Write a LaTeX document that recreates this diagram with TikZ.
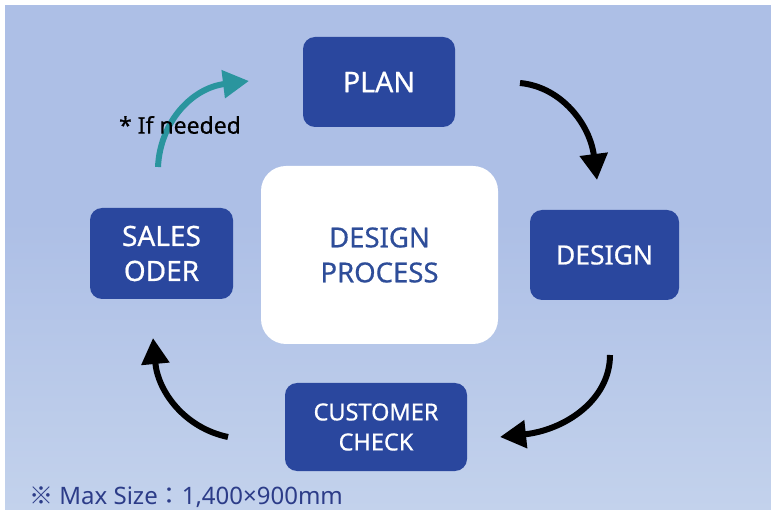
\documentclass[tikz,border=0pt]{standalone}
\usepackage{fontspec}
\setmainfont{Noto Sans}
\newfontfamily\medfont{Noto Sans}[FakeBold=0.6]
\newfontfamily\cjkfont{Noto Sans CJK JP}
\usetikzlibrary{arrows.meta}
\definecolor{boxblue}{HTML}{2A479E}
\definecolor{bgtop}{HTML}{ADBFE6}
\definecolor{bgbot}{HTML}{C3D2EC}
\definecolor{txtblue}{HTML}{2E4D99}
\definecolor{noteblue}{HTML}{2C3C88}
\definecolor{teal}{HTML}{2A959E}
\tikzset{
  stepbox/.style={fill=boxblue, text=white, rounded corners=12pt, inner sep=0pt, align=center},
  centerbox/.style={fill=white, text=txtblue, rounded corners=25pt, inner sep=0pt, align=center,
    minimum width=237pt, minimum height=178pt, font=\medfont\fontsize{27.5}{35}\selectfont},
  flow/.style={line width=6pt, -{Triangle[length=26pt,width=27pt]}},
}
\begin{document}
\begin{tikzpicture}[x=1pt,y=-1pt]
\useasboundingbox (0,0) rectangle (771,510);
\fill[white] (0,0) rectangle (771,510);
\fill[bgtop] (5,5) rectangle (771,221);
\shade[top color=bgtop, bottom color=bgbot] (5,220) rectangle (771,510);

\node[centerbox] (center) at (379.5,255) {DESIGN\\PROCESS};
\node[stepbox, minimum width=152pt, minimum height=90pt, font=\medfont\fontsize{28.5}{35}\selectfont] (plan) at (379,82) {PLAN};
\node[stepbox, minimum width=149pt, minimum height=90pt, font=\medfont\fontsize{26.5}{35}\selectfont] (design) at (604.5,255) {DESIGN};
\node[stepbox, minimum width=182pt, minimum height=88pt, font=\medfont\fontsize{23.5}{30}\selectfont] (check) at (376,427) {CUSTOMER\\CHECK};
\node[stepbox, minimum width=143pt, minimum height=91pt, font=\medfont\fontsize{28}{35}\selectfont] (sales) at (161.5,253.5) {SALES\\ODER};

\coordinate (a1s) at (520,83);
\coordinate (a1e) at (597,180);
\coordinate (a2s) at (610,355);
\coordinate (a2e) at (500,437);
\coordinate (a3s) at (228,437);
\coordinate (a3e) at (153,338);
\coordinate (a4s) at (158,167);
\coordinate (a4e) at (249,81);

\draw[flow] (a1s) .. controls (562,87) and (590,125) .. (a1e);
\draw[flow] (a2s) .. controls (610,400) and (565,430) .. (a2e);
\draw[flow] (a3s) .. controls (185,428) and (158,392) .. (a3e);
\draw[flow, teal] (a4s) .. controls (160,122) and (192,88) .. (a4e);

\node[font=\medfont\fontsize{23}{25}\selectfont, text=black, inner sep=0pt] (note) at (180,125) {* If needed};

\node[font=\fontsize{24}{26}\selectfont, text=noteblue, anchor=west, inner sep=0pt] (size) at (29,497)
  {{\cjkfont ※} Max Size{\cjkfont ：}1,400×900mm};
\end{tikzpicture}
\end{document}
